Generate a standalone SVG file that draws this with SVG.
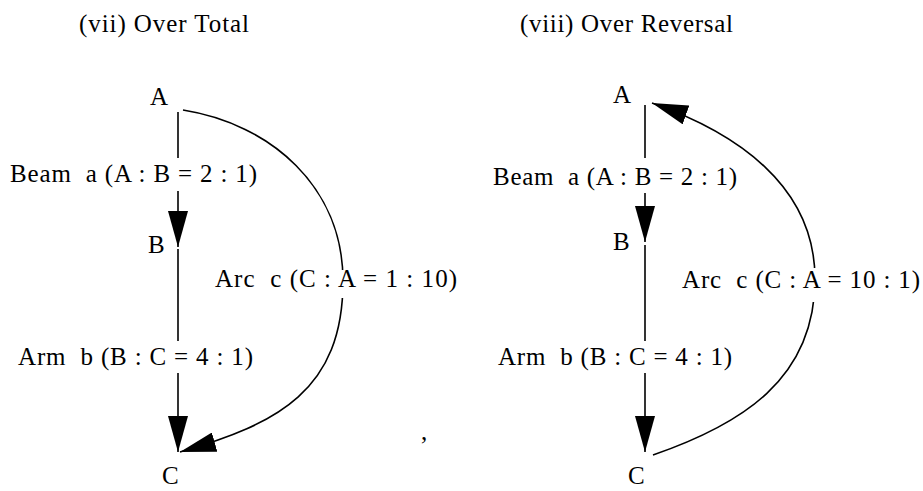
<svg xmlns="http://www.w3.org/2000/svg" width="923" height="491" viewBox="0 0 923 491">
<style>
text{font-family:"Liberation Serif","Times New Roman",serif;font-size:25px;fill:#000}
.edge{fill:none;stroke:#000;stroke-width:1.6}
.mask{fill:#fff;stroke:none}
</style>
<defs>
<marker id="ah" viewBox="0 0 36 20" markerWidth="36" markerHeight="20" refX="36" refY="10" orient="auto" markerUnits="userSpaceOnUse">
<path d="M0,0 L36,10 L0,20 Z" fill="#000"/>
</marker>
</defs>
<rect width="923" height="491" fill="#fff"/>
<g id="titles">
<text x="79" y="32" textLength="170">(vii) Over Total</text>
<text x="520" y="32" textLength="213">(viii) Over Reversal</text>
</g>
<g id="connectors">
<line class="edge" x1="178" y1="112" x2="178" y2="247" marker-end="url(#ah)"/>
<line class="edge" x1="178" y1="249" x2="178" y2="452" marker-end="url(#ah)"/>
<path class="edge" d="M183,110 C271,124 343,187 343,281 C343,390 278,424 180,452" marker-end="url(#ah)"/>
<line class="edge" x1="645" y1="105" x2="645" y2="242" marker-end="url(#ah)"/>
<line class="edge" x1="645" y1="245" x2="645" y2="452" marker-end="url(#ah)"/>
<path class="edge" d="M653,455 C740,425 815,380 815,279 C815,185 735,132 652,103" marker-end="url(#ah)"/>
</g>
<g id="left-A"><text x="150" y="105">A</text></g>
<g id="left-B"><text x="148" y="253">B</text></g>
<g id="left-C"><text x="162" y="484">C</text></g>
<g id="left-beam-a">
<rect class="mask" x="8" y="158" width="252" height="33"/>
<text x="10" y="182" textLength="247" xml:space="preserve">Beam  a (A : B = 2 : 1)</text>
</g>
<g id="left-arm-b">
<rect class="mask" x="16" y="341" width="240" height="32"/>
<text x="18" y="365" textLength="235" xml:space="preserve">Arm  b (B : C = 4 : 1)</text>
</g>
<g id="left-arc-c">
<rect class="mask" x="213" y="270" width="246" height="28"/>
<text x="215" y="287" textLength="242" xml:space="preserve">Arc  c (C : A = 1 : 10)</text>
</g>
<g id="right-A"><text x="613" y="103">A</text></g>
<g id="right-B"><text x="613" y="250">B</text></g>
<g id="right-C"><text x="628" y="484">C</text></g>
<g id="right-beam-a">
<rect class="mask" x="491" y="158" width="249" height="35"/>
<text x="493" y="185" textLength="244" xml:space="preserve">Beam  a (A : B = 2 : 1)</text>
</g>
<g id="right-arm-b">
<rect class="mask" x="496" y="341" width="239" height="32"/>
<text x="498" y="365" textLength="234" xml:space="preserve">Arm  b (B : C = 4 : 1)</text>
</g>
<g id="right-arc-c">
<rect class="mask" x="680" y="268" width="243" height="34"/>
<text x="682" y="288" textLength="238" xml:space="preserve">Arc  c (C : A = 10 : 1)</text>
</g>
<g id="mark"><text x="421" y="440">,</text></g>
</svg>
